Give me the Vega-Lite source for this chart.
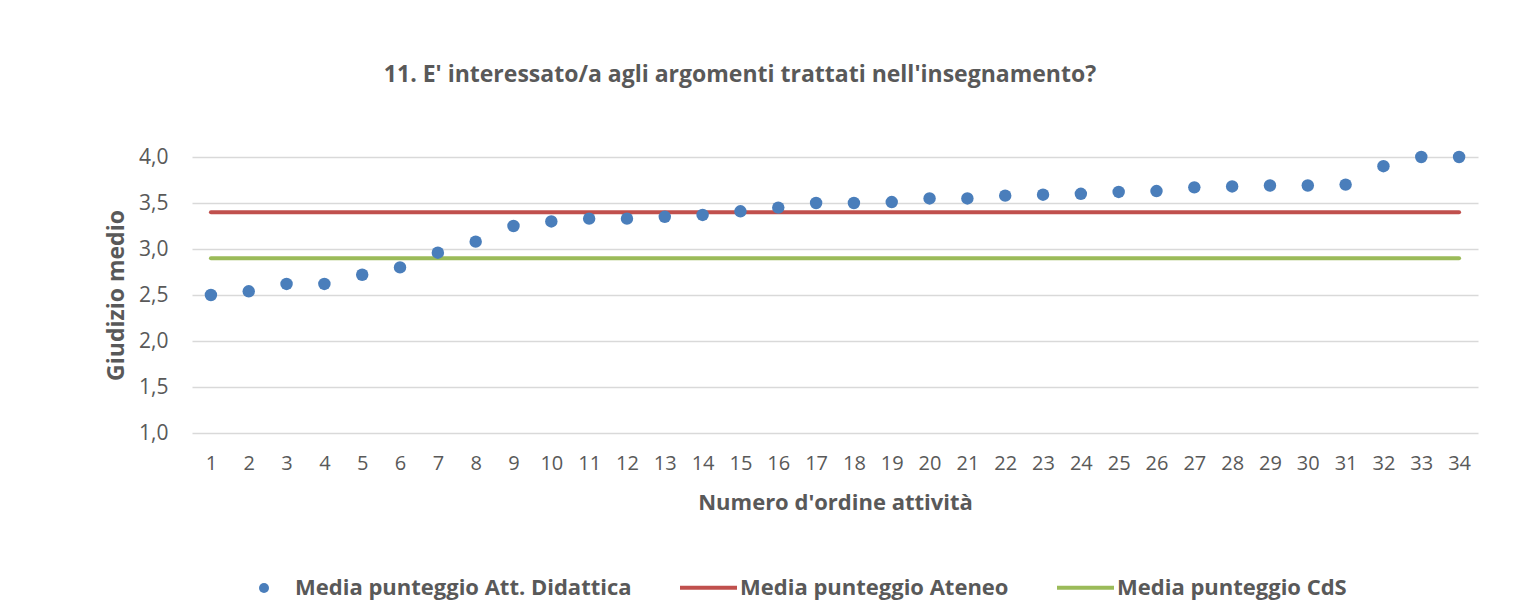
{
  "$schema": "https://vega.github.io/schema/vega-lite/v6.json",
  "width": 1286,
  "height": 276,
  "autosize": {"type": "none"},
  "padding": {"left": 192, "top": 157, "right": 44, "bottom": 170},
  "background": "white",
  "config": {
    "font": "Open Sans",
    "view": {"stroke": null},
    "axis": {"labelColor": "#595959", "titleColor": "#595959", "labelFont": "Open Sans", "titleFont": "Open Sans"},
    "legend": {"labelColor": "#595959", "labelFont": "Open Sans"}
  },
  "title": {
    "text": "11. E' interessato/a agli argomenti trattati nell'insegnamento?",
    "fontSize": 23,
    "fontWeight": "bold",
    "color": "#595959",
    "anchor": "middle",
    "dx": -95,
    "offset": 59
  },
  "datasets": {
    "punti": [
      {"attivita": 1, "giudizio": 2.50, "serie": "Media punteggio Att. Didattica"},
      {"attivita": 2, "giudizio": 2.54, "serie": "Media punteggio Att. Didattica"},
      {"attivita": 3, "giudizio": 2.62, "serie": "Media punteggio Att. Didattica"},
      {"attivita": 4, "giudizio": 2.62, "serie": "Media punteggio Att. Didattica"},
      {"attivita": 5, "giudizio": 2.72, "serie": "Media punteggio Att. Didattica"},
      {"attivita": 6, "giudizio": 2.80, "serie": "Media punteggio Att. Didattica"},
      {"attivita": 7, "giudizio": 2.96, "serie": "Media punteggio Att. Didattica"},
      {"attivita": 8, "giudizio": 3.08, "serie": "Media punteggio Att. Didattica"},
      {"attivita": 9, "giudizio": 3.25, "serie": "Media punteggio Att. Didattica"},
      {"attivita": 10, "giudizio": 3.30, "serie": "Media punteggio Att. Didattica"},
      {"attivita": 11, "giudizio": 3.33, "serie": "Media punteggio Att. Didattica"},
      {"attivita": 12, "giudizio": 3.33, "serie": "Media punteggio Att. Didattica"},
      {"attivita": 13, "giudizio": 3.35, "serie": "Media punteggio Att. Didattica"},
      {"attivita": 14, "giudizio": 3.37, "serie": "Media punteggio Att. Didattica"},
      {"attivita": 15, "giudizio": 3.41, "serie": "Media punteggio Att. Didattica"},
      {"attivita": 16, "giudizio": 3.45, "serie": "Media punteggio Att. Didattica"},
      {"attivita": 17, "giudizio": 3.50, "serie": "Media punteggio Att. Didattica"},
      {"attivita": 18, "giudizio": 3.50, "serie": "Media punteggio Att. Didattica"},
      {"attivita": 19, "giudizio": 3.51, "serie": "Media punteggio Att. Didattica"},
      {"attivita": 20, "giudizio": 3.55, "serie": "Media punteggio Att. Didattica"},
      {"attivita": 21, "giudizio": 3.55, "serie": "Media punteggio Att. Didattica"},
      {"attivita": 22, "giudizio": 3.58, "serie": "Media punteggio Att. Didattica"},
      {"attivita": 23, "giudizio": 3.59, "serie": "Media punteggio Att. Didattica"},
      {"attivita": 24, "giudizio": 3.60, "serie": "Media punteggio Att. Didattica"},
      {"attivita": 25, "giudizio": 3.62, "serie": "Media punteggio Att. Didattica"},
      {"attivita": 26, "giudizio": 3.63, "serie": "Media punteggio Att. Didattica"},
      {"attivita": 27, "giudizio": 3.67, "serie": "Media punteggio Att. Didattica"},
      {"attivita": 28, "giudizio": 3.68, "serie": "Media punteggio Att. Didattica"},
      {"attivita": 29, "giudizio": 3.69, "serie": "Media punteggio Att. Didattica"},
      {"attivita": 30, "giudizio": 3.69, "serie": "Media punteggio Att. Didattica"},
      {"attivita": 31, "giudizio": 3.70, "serie": "Media punteggio Att. Didattica"},
      {"attivita": 32, "giudizio": 3.90, "serie": "Media punteggio Att. Didattica"},
      {"attivita": 33, "giudizio": 4.00, "serie": "Media punteggio Att. Didattica"},
      {"attivita": 34, "giudizio": 4.00, "serie": "Media punteggio Att. Didattica"}
    ],
    "medie": [
      {"attivita": 1, "valore": 3.4, "serie": "Media punteggio Ateneo"},
      {"attivita": 34, "valore": 3.4, "serie": "Media punteggio Ateneo"},
      {"attivita": 1, "valore": 2.9, "serie": "Media punteggio CdS"},
      {"attivita": 34, "valore": 2.9, "serie": "Media punteggio CdS"}
    ]
  },
  "encoding": {
    "x": {
      "field": "attivita",
      "type": "ordinal",
      "sort": "ascending",
      "title": "Numero d'ordine attività",
      "axis": {
        "labelAngle": 0,
        "labelFontSize": 20,
        "labelPadding": 20,
        "ticks": false,
        "domain": false,
        "grid": false,
        "titleFontSize": 22,
        "titleFontWeight": "bold",
        "titlePadding": 19
      }
    }
  },
  "layer": [
    {
      "data": {"name": "medie"},
      "mark": {"type": "line", "strokeWidth": 4, "strokeCap": "round"},
      "encoding": {
        "y": {"field": "valore", "type": "quantitative"},
        "detail": {"field": "serie"},
        "color": {
          "field": "serie",
          "type": "nominal",
          "scale": {"domain": ["Media punteggio Ateneo", "Media punteggio CdS"], "range": ["#C0504D", "#9BBB59"]},
          "legend": {
            "title": null,
            "orient": "none",
            "direction": "horizontal",
            "legendX": 486,
            "legendY": 400,
            "symbolType": "stroke",
            "symbolSize": 3249,
            "symbolStrokeWidth": 4,
            "labelFontSize": 22,
            "labelFontWeight": "bold",
            "labelOffset": 1,
            "labelLimit": 600,
            "columnPadding": 40
          }
        }
      }
    },
    {
      "data": {"name": "punti"},
      "mark": {"type": "circle", "size": 155, "opacity": 1},
      "encoding": {
        "y": {
          "field": "giudizio",
          "type": "quantitative",
          "scale": {"domain": [1, 4], "nice": false, "zero": false},
          "title": "Giudizio medio",
          "axis": {
            "values": [1, 1.5, 2, 2.5, 3, 3.5, 4],
            "labelExpr": "replace(format(datum.value, '.1f'), '.', ',')",
            "labelFontSize": 21,
            "labelPadding": 24,
            "ticks": false,
            "domain": false,
            "gridColor": "#D9D9D9",
            "gridWidth": 1.5,
            "titleFontSize": 23,
            "titleFontWeight": "bold",
            "titlePadding": 10
          }
        },
        "color": {
          "field": "serie",
          "type": "nominal",
          "scale": {"domain": ["Media punteggio Att. Didattica"], "range": ["#4A7EBB"]},
          "legend": {
            "title": null,
            "orient": "none",
            "legendX": 61,
            "legendY": 420,
            "symbolType": "circle",
            "symbolSize": 100,
            "symbolOpacity": 1,
            "labelFontSize": 22,
            "labelFontWeight": "bold",
            "labelOffset": 20,
            "labelLimit": 600
          }
        }
      }
    }
  ],
  "resolve": {"scale": {"color": "independent"}}
}
